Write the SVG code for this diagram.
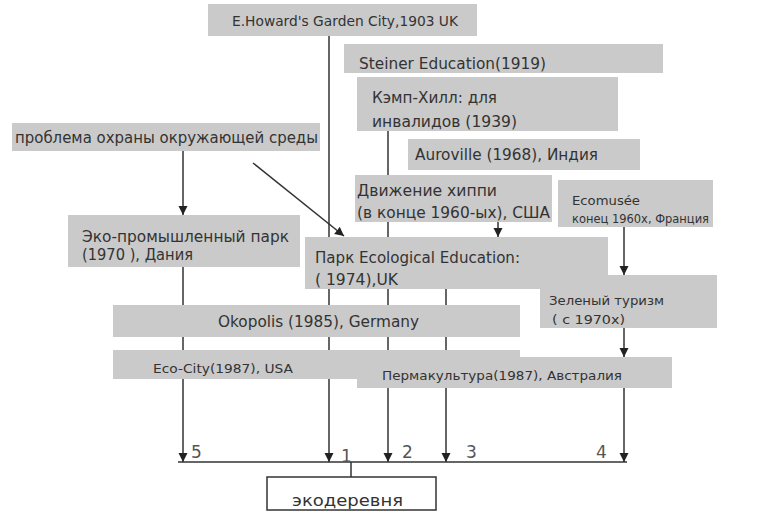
<svg xmlns="http://www.w3.org/2000/svg" width="768" height="514" viewBox="0 0 768 514">
<style>
.b{fill:#cacaca;stroke:none}
.t{font-family:"DejaVu Sans","Liberation Sans",sans-serif;fill:#333}
.c{stroke:#333;stroke-width:1.5;fill:none}
.n{font-family:"DejaVu Sans","Liberation Sans",sans-serif;fill:#555;font-size:17px}
</style>
<defs>
<marker id="arr" viewBox="0 0 10 10" refX="10" refY="5" markerWidth="9" markerHeight="10" markerUnits="userSpaceOnUse" orient="auto">
<path d="M0,0 L10,5 L0,10 z" fill="#222"/>
</marker>
</defs>
<rect width="768" height="514" fill="#fff"/>
<g id="connectors">
<path class="c" d="M183 267 V462" marker-end="url(#arr)"/>
<path class="c" d="M329 36 V462" marker-end="url(#arr)"/>
<path class="c" d="M388 131 V462" marker-end="url(#arr)"/>
<path class="c" d="M446 289 V462" marker-end="url(#arr)"/>
<path class="c" d="M624 388 V462" marker-end="url(#arr)"/>
<path class="c" d="M183 151 V215" marker-end="url(#arr)"/>
<path class="c" d="M253 163 L344 236" marker-end="url(#arr)"/>
<path class="c" d="M498 222 V237" marker-end="url(#arr)"/>
<path class="c" d="M624 227 V275" marker-end="url(#arr)"/>
<path class="c" d="M624 328 V357" marker-end="url(#arr)"/>
<path class="c" d="M178 462 H627"/>
<path class="c" d="M351 462 V477"/>
</g>
<g id="howard"><rect class="b" x="208" y="4" width="269" height="32"/><text class="t" x="232" y="26" font-size="14" textLength="226" lengthAdjust="spacingAndGlyphs">E.Howard's Garden City,1903 UK</text></g>
<g id="steiner"><rect class="b" x="344" y="44" width="319" height="29"/><text class="t" x="359" y="69" font-size="16" textLength="187" lengthAdjust="spacingAndGlyphs">Steiner Education(1919)</text></g>
<g id="camphill"><rect class="b" x="357" y="77" width="261" height="54"/><text class="t" x="372" y="103" font-size="15" textLength="125" lengthAdjust="spacingAndGlyphs">Кэмп-Хилл: для</text><text class="t" x="372" y="127" font-size="15" textLength="145" lengthAdjust="spacingAndGlyphs">инвалидов (1939)</text></g>
<g id="auroville"><rect class="b" x="408" y="139" width="232" height="31"/><text class="t" x="415" y="160" font-size="15" textLength="183" lengthAdjust="spacingAndGlyphs">Auroville (1968), Индия</text></g>
<g id="hippie"><rect class="b" x="355" y="175" width="197" height="47"/><text class="t" x="357" y="196" font-size="15" textLength="140" lengthAdjust="spacingAndGlyphs">Движение хиппи</text><text class="t" x="357" y="218" font-size="15" textLength="193" lengthAdjust="spacingAndGlyphs">(в конце 1960-ых), США</text></g>
<g id="ecomusee"><rect class="b" x="558" y="180" width="155" height="47"/><text class="t" x="572" y="205" font-size="12" textLength="68" lengthAdjust="spacingAndGlyphs">Ecomusée</text><text class="t" x="572" y="223" font-size="12" textLength="137" lengthAdjust="spacingAndGlyphs">конец 1960х, Франция</text></g>
<g id="problem"><rect class="b" x="12" y="123" width="308" height="28"/><text class="t" x="15" y="143" font-size="15" textLength="303" lengthAdjust="spacingAndGlyphs">проблема охраны окружающей среды</text></g>
<g id="ecoindustrial"><rect class="b" x="68" y="215" width="232" height="52"/><text class="t" x="82" y="242" font-size="15" textLength="207" lengthAdjust="spacingAndGlyphs">Эко-промышленный парк</text><text class="t" x="82" y="260" font-size="15" textLength="111" lengthAdjust="spacingAndGlyphs">(1970 ), Дания</text></g>
<g id="ecoeducation"><rect class="b" x="305" y="237" width="303" height="52"/><text class="t" x="315" y="263" font-size="16" textLength="205" lengthAdjust="spacingAndGlyphs">Парк Ecological Education:</text><text class="t" x="315" y="285" font-size="16" textLength="83" lengthAdjust="spacingAndGlyphs">( 1974),UK</text></g>
<g id="greentourism"><rect class="b" x="540" y="275" width="177" height="53"/><text class="t" x="549" y="305" font-size="13" textLength="115" lengthAdjust="spacingAndGlyphs">Зеленый туризм</text><text class="t" x="552" y="324" font-size="13" textLength="73" lengthAdjust="spacingAndGlyphs">( с 1970х)</text></g>
<g id="okopolis"><rect class="b" x="113" y="305" width="407" height="32"/><text class="t" x="218" y="327" font-size="15" textLength="201" lengthAdjust="spacingAndGlyphs">Okopolis (1985), Germany</text></g>
<g id="ecocity"><rect class="b" x="113" y="350" width="407" height="29"/><text class="t" x="153" y="373" font-size="13" textLength="140" lengthAdjust="spacingAndGlyphs">Eco-City(1987), USA</text></g>
<g id="permaculture"><rect class="b" x="357" y="357" width="315" height="31"/><text class="t" x="382" y="380" font-size="13" textLength="240" lengthAdjust="spacingAndGlyphs">Пермакультура(1987), Австралия</text></g>
<g id="ecovillage"><rect x="267" y="477" width="169" height="33" fill="#fff" stroke="#333" stroke-width="1.5"/><text class="t" x="292" y="506" font-size="16" textLength="111" lengthAdjust="spacingAndGlyphs">экодеревня</text></g>
<g id="labels">
<text class="n" x="191" y="458">5</text>
<text class="n" x="341" y="462">1</text>
<text class="n" x="402" y="458">2</text>
<text class="n" x="466" y="458">3</text>
<text class="n" x="596" y="458">4</text>
</g>
</svg>
